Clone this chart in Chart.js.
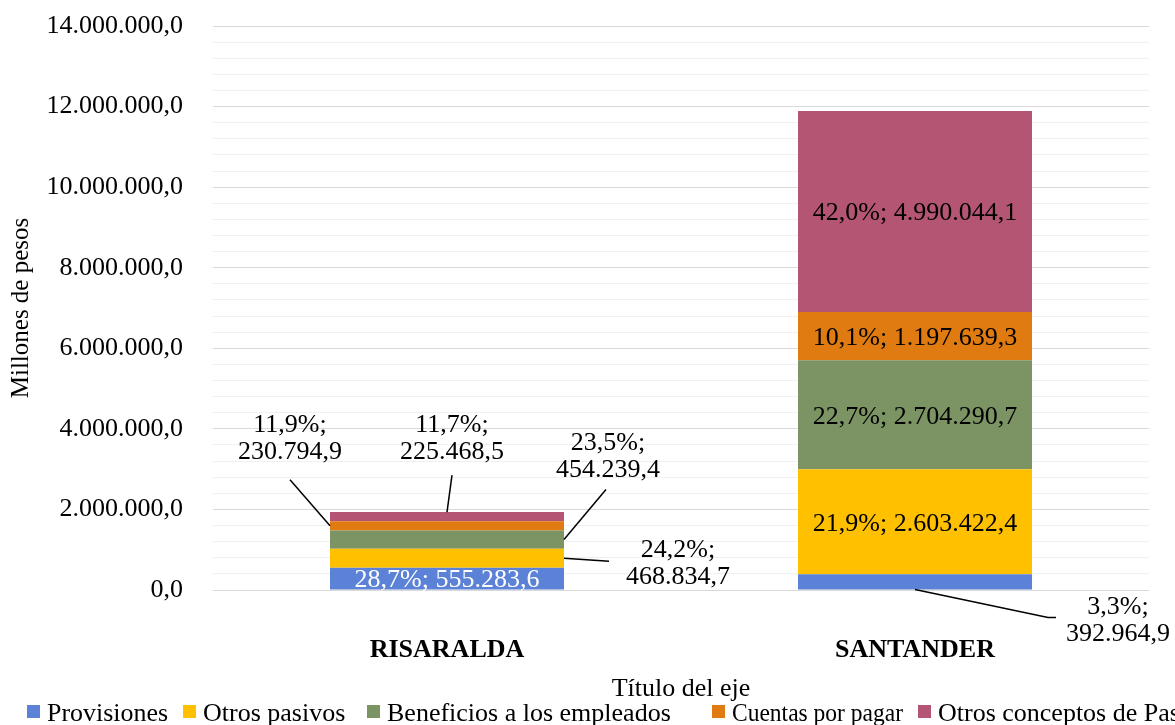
<!DOCTYPE html>
<html>
<head>
<meta charset="utf-8">
<script src="https://cdn.jsdelivr.net/npm/chart.js@4"></script>
<style>
  html, body { margin: 0; padding: 0; background: #fff; }
  canvas { display: block; }
</style>
</head>
<body>
<canvas id="chart" width="1175" height="725"></canvas>
<script>
const categorias = ['RISARALDA', 'SANTANDER'];
const nombresSeries = ['Provisiones', 'Otros pasivos', 'Beneficios a los empleados', 'Cuentas por pagar', 'Otros conceptos de Pasivos'];
const provisiones = [555283.6, 392964.9];
const otrosPasivos = [468834.7, 2603422.4];
const beneficios = [454239.4, 2704290.7];
const cuentasPorPagar = [230794.9, 1197639.3];
const otrosConceptos = [225468.5, 4990044.1];
const yMin = 0, yMax = 14000000, yPaso = 400000, yPasoEtiqueta = 2000000;

const colores = ['#5b82d6', '#ffc000', '#7c9464', '#df7b10', '#b45574'];
const FUENTE = "'Liberation Serif', 'Times New Roman', serif";

// etiquetas que van fuera de la barra con línea guía (desplazamientos en px desde el ancla)
const guias = [
  { ds: 1, cat: 0, ancla: 'derecha', texto: [114, 5], linea: [[45, 3]] },
  { ds: 2, cat: 0, ancla: 'derecha', texto: [44, -83], linea: [[42, -50]] },
  { ds: 3, cat: 0, ancla: 'izquierda', texto: [-40, -87], linea: [[-40, -46]] },
  { ds: 4, cat: 0, ancla: 'arriba', texto: [5, -73], linea: [[5, -37]] },
  { ds: 0, cat: 1, ancla: 'abajo', texto: [203, 31], linea: [[133, 28], [141, 28]] },
];
const leyendaX = [27, 183, 367, 712, 918];

const valores = [provisiones, otrosPasivos, beneficios, cuentasPorPagar, otrosConceptos];
const totales = categorias.map((_, i) => valores.reduce((s, v) => s + v[i], 0));

function fmt(v) {
  const [ent, dec] = v.toFixed(1).split('.');
  return ent.replace(/\B(?=(\d{3})+(?!\d))/g, '.') + ',' + dec;
}
function pct(v, t) {
  return (v / t * 100).toFixed(1).replace('.', ',') + '%';
}

const etiquetasPlugin = {
  id: 'etiquetas',
  afterDatasetsDraw(chart) {
    const ctx = chart.ctx;
    ctx.save();
    ctx.font = `26px ${FUENTE}`;
    ctx.textAlign = 'center';
    ctx.textBaseline = 'middle';
    chart.data.datasets.forEach((ds, d) => {
      const meta = chart.getDatasetMeta(d);
      meta.data.forEach((el, c) => {
        const v = ds.data[c];
        const p = pct(v, totales[c]);
        const guia = guias.find(g => g.ds === d && g.cat === c);
        const mid = (el.y + el.base) / 2;
        if (!guia) {
          ctx.fillStyle = d === 0 ? '#ffffff' : '#000000';
          ctx.fillText(`${p}; ${fmt(v)}`, el.x, mid + 2);
          return;
        }
        let ax = el.x, ay = mid;
        if (guia.ancla === 'derecha') ax = el.x + el.width / 2;
        if (guia.ancla === 'izquierda') ax = el.x - el.width / 2;
        if (guia.ancla === 'arriba') ay = el.y;
        if (guia.ancla === 'abajo') ay = el.base;
        ctx.strokeStyle = '#000000';
        ctx.lineWidth = 1.5;
        ctx.beginPath();
        ctx.moveTo(ax, ay);
        guia.linea.forEach(([dx, dy]) => ctx.lineTo(ax + dx, ay + dy));
        ctx.stroke();
        const tx = ax + guia.texto[0], ty = ay + guia.texto[1];
        ctx.fillStyle = '#000000';
        ctx.fillText(`${p};`, tx, ty - 13.5);
        ctx.fillText(fmt(v), tx, ty + 13.5);
      });
    });
    ctx.restore();
  }
};

const leyendaPlugin = {
  id: 'leyenda',
  afterDraw(chart) {
    const ctx = chart.ctx;
    ctx.save();
    ctx.font = `26px ${FUENTE}`;
    ctx.textBaseline = 'alphabetic';
    ctx.textAlign = 'left';
    chart.data.datasets.forEach((ds, i) => {
      const x = leyendaX[i];
      ctx.fillStyle = ds.backgroundColor;
      ctx.fillRect(x, 705, 13, 13);
      ctx.fillStyle = '#000000';
      const sig = leyendaX[i + 1];
      if (sig) ctx.fillText(ds.label, x + 20, 720.5, sig - x - 35);
      else ctx.fillText(ds.label, x + 20, 720.5);
    });
    ctx.restore();
  }
};

new Chart(document.getElementById('chart'), {
  type: 'bar',
  data: {
    labels: categorias,
    datasets: valores.map((v, i) => ({
      label: nombresSeries[i],
      data: v,
      backgroundColor: colores[i],
      borderWidth: 0,
      barPercentage: 0.5,
      categoryPercentage: 1.0,
    })),
  },
  options: {
    responsive: false,
    animation: false,
    devicePixelRatio: 1,
    layout: { padding: { top: 26, right: 26, bottom: 20, left: 0 } },
    plugins: { legend: { display: false }, tooltip: { enabled: false } },
    scales: {
      x: {
        stacked: true,
        grid: { display: false },
        border: { display: false },
        ticks: { color: '#000', padding: 37, font: { family: FUENTE, size: 26, weight: 'bold' } },
        title: { display: true, text: 'Título del eje', color: '#000', padding: { top: 0, bottom: 0 }, font: { family: FUENTE, size: 26 } },
        afterFit: s => { s.height = 115; },
      },
      y: {
        stacked: true,
        min: yMin,
        max: yMax,
        border: { display: false },
        grid: {
          drawTicks: false,
          lineWidth: 1,
          color: c => Math.round(c.tick.value) % yPasoEtiqueta === 0 ? '#d9d9d9' : '#f0f0f0',
        },
        ticks: {
          stepSize: yPaso,
          autoSkip: false,
          padding: 30,
          color: '#000',
          font: { family: FUENTE, size: 26 },
          callback: v => Math.round(v) % yPasoEtiqueta === 0 ? fmt(v) : '',
        },
        title: { display: true, text: 'Millones de pesos', color: '#000', padding: { top: 6, bottom: 0 }, font: { family: FUENTE, size: 25 } },
        afterFit: s => { s.width = 213; s.paddingTop = 0; s.paddingBottom = 0; },
      },
    },
  },
  plugins: [etiquetasPlugin, leyendaPlugin],
});
</script>
</body>
</html>
